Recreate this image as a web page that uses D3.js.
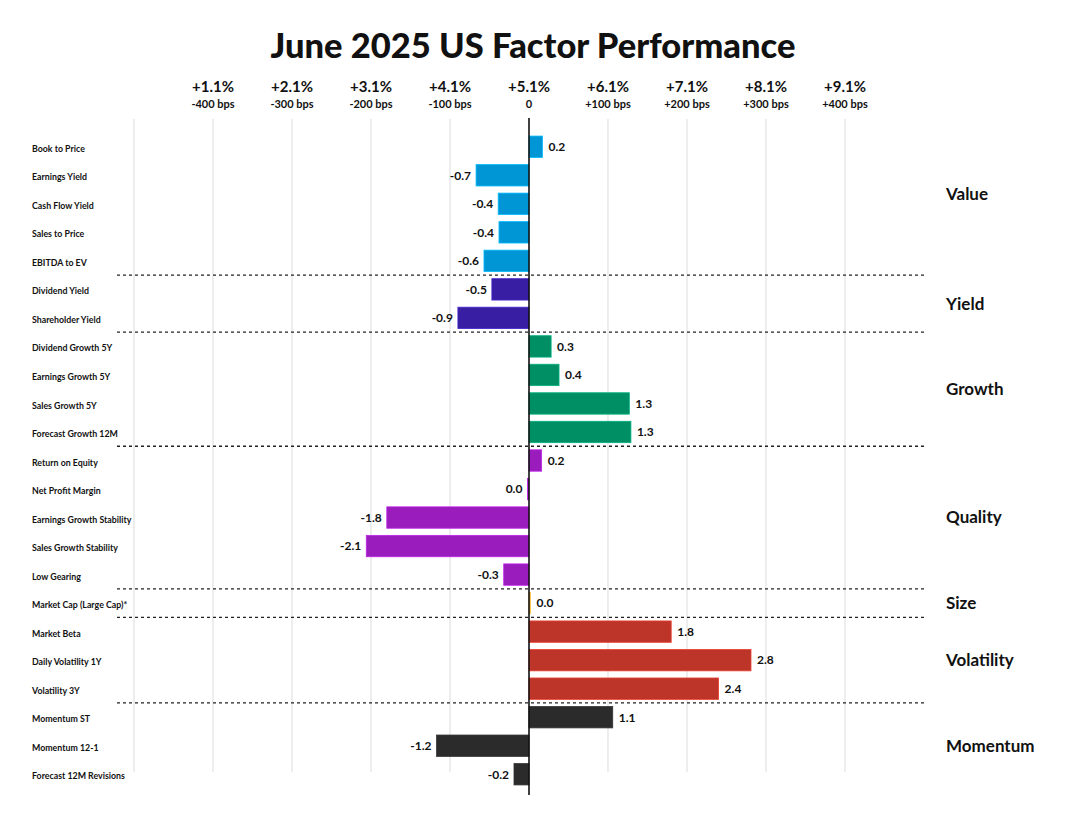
<!DOCTYPE html>
<html>
<head>
<meta charset="utf-8">
<script src="https://cdn.jsdelivr.net/npm/d3@7"></script>
<style>
  body { margin: 0; background: #fff; }
  text { font-family: "Lato", "Noto Sans", sans-serif; fill: #111; }
</style>
</head>
<body>
<div id="chart"></div>
<script>
// factor names, one row each
var factors = [
  "Book to Price", "Earnings Yield", "Cash Flow Yield", "Sales to Price", "EBITDA to EV",
  "Dividend Yield", "Shareholder Yield",
  "Dividend Growth 5Y", "Earnings Growth 5Y", "Sales Growth 5Y", "Forecast Growth 12M",
  "Return on Equity", "Net Profit Margin", "Earnings Growth Stability", "Sales Growth Stability", "Low Gearing",
  "Market Cap (Large Cap)*",
  "Market Beta", "Daily Volatility 1Y", "Volatility 3Y",
  "Momentum ST", "Momentum 12-1", "Forecast 12M Revisions"
];

// relative performance in % vs the market
var values = [
  0.17, -0.67, -0.39, -0.38, -0.57,
  -0.47, -0.90,
  0.28, 0.38, 1.27, 1.29,
  0.16, -0.02, -1.80, -2.06, -0.32,
  0.02,
  1.80, 2.81, 2.40,
  1.06, -1.17, -0.19
];

// which style group each factor belongs to
var groupOf = [
  "Value", "Value", "Value", "Value", "Value",
  "Yield", "Yield",
  "Growth", "Growth", "Growth", "Growth",
  "Quality", "Quality", "Quality", "Quality", "Quality",
  "Size",
  "Volatility", "Volatility", "Volatility",
  "Momentum", "Momentum", "Momentum"
];

var groups = ["Value", "Yield", "Growth", "Quality", "Size", "Volatility", "Momentum"];
var groupColors = ["#0096d6", "#381ea3", "#008f65", "#9a1cbc", "#e9a23b", "#bd3429", "#2b2b2b"];

// top axis
var tickValues = [-4, -3, -2, -1, 0, 1, 2, 3, 4];
var tickLabels = ["+1.1%", "+2.1%", "+3.1%", "+4.1%", "+5.1%", "+6.1%", "+7.1%", "+8.1%", "+9.1%"];
var bpsLabels = ["-400 bps", "-300 bps", "-200 bps", "-100 bps", "0", "+100 bps", "+200 bps", "+300 bps", "+400 bps"];
var gridValues = [-5, -4, -3, -2, -1, 0, 1, 2, 3, 4];

var svgWidth = 1069;
var svgHeight = 830;

var svg = d3.select("#chart")
  .append("svg")
  .attr("width", svgWidth)
  .attr("height", svgHeight);

var x = d3.scaleLinear()
  .domain([-5, 5])
  .range([134, 924]);

var y = d3.scaleBand()
  .domain(factors)
  .range([132.5, 788.5])
  .paddingInner(0.25)
  .paddingOuter(0.125);

var step = y.step();
var color = d3.scaleOrdinal().domain(groups).range(groupColors);

// title
svg.append("text")
  .attr("x", 533)
  .attr("y", 58)
  .attr("text-anchor", "middle")
  .style("font-size", "34.5px")
  .style("font-weight", 900)
  .text("June 2025 US Factor Performance");

// vertical gridlines
svg.append("g")
  .selectAll("line")
  .data(gridValues.filter(d => d !== 0))
  .enter()
  .append("line")
  .attr("x1", d => x(d))
  .attr("x2", d => x(d))
  .attr("y1", 119)
  .attr("y2", 772)
  .attr("stroke", "#e2e2e2")
  .attr("stroke-width", 1.2);

// top tick labels
var topAxis = svg.append("g");
topAxis.selectAll(".pct")
  .data(tickValues)
  .enter()
  .append("text")
  .attr("class", "pct")
  .attr("x", d => x(d))
  .attr("y", 92)
  .attr("text-anchor", "middle")
  .style("font-size", "15px")
  .style("font-weight", 700)
  .text((d, i) => tickLabels[i]);

topAxis.selectAll(".bps")
  .data(tickValues)
  .enter()
  .append("text")
  .attr("class", "bps")
  .attr("x", d => x(d))
  .attr("y", 108)
  .attr("text-anchor", "middle")
  .style("font-size", "11px")
  .style("font-weight", 700)
  .text((d, i) => bpsLabels[i]);

// dashed separators between groups
var breaks = [];
for (var i = 1; i < factors.length; i++) {
  if (groupOf[i] !== groupOf[i - 1]) breaks.push(factors[i]);
}
svg.append("g")
  .selectAll("line")
  .data(breaks)
  .enter()
  .append("line")
  .attr("x1", 117)
  .attr("x2", 924)
  .attr("y1", d => y(d) - (step - y.bandwidth()) / 2)
  .attr("y2", d => y(d) - (step - y.bandwidth()) / 2)
  .attr("stroke", "#222")
  .attr("stroke-width", 1.3)
  .attr("stroke-dasharray", "3,3");

// bars
var rows = factors.map((f, i) => ({ name: f, value: values[i], group: groupOf[i] }));

svg.append("g")
  .selectAll("rect")
  .data(rows)
  .enter()
  .append("rect")
  .attr("x", d => x(Math.min(0, d.value)))
  .attr("y", d => y(d.name))
  .attr("width", d => Math.abs(x(d.value) - x(0)))
  .attr("height", y.bandwidth())
  .attr("fill", d => color(d.group))
  .attr("stroke", d => d3.color(color(d.group)).brighter(0.6))
  .attr("stroke-width", 0.8);

// value labels
function fmt(v) {
  var r = Math.round(v * 10) / 10;
  if (r === 0) return "0.0";
  return (r < 0 ? "-" : "") + Math.abs(r).toFixed(1);
}

svg.append("g")
  .selectAll("text")
  .data(rows)
  .enter()
  .append("text")
  .attr("x", d => d.value < 0 ? x(d.value) - 5 : x(d.value) + 6)
  .attr("y", d => y(d.name) + y.bandwidth() / 2)
  .attr("dy", "0.36em")
  .attr("text-anchor", d => d.value < 0 ? "end" : "start")
  .style("font-size", "12px")
  .style("font-weight", 700)
  .text(d => fmt(d.value));

// factor names on the left
svg.append("g")
  .selectAll("text")
  .data(factors)
  .enter()
  .append("text")
  .attr("x", 32)
  .attr("y", d => y(d) + y.bandwidth() / 2 + 2)
  .attr("dy", "0.35em")
  .style("font-size", "8.8px")
  .style("font-weight", 700)
  .text(d => d);

// group names on the right (Value label sits a little high in the original)
svg.append("g")
  .selectAll("text")
  .data(groups)
  .enter()
  .append("text")
  .attr("x", 946)
  .attr("y", function(g) {
    var members = factors.filter((f, i) => groupOf[i] === g);
    var top = y(members[0]);
    var bottom = y(members[members.length - 1]) + y.bandwidth();
    return (top + bottom) / 2 + (g === "Value" ? -10 : 0);
  })
  .attr("dy", "0.35em")
  .style("font-size", "17px")
  .style("font-weight", 700)
  .text(d => d);

// zero line
svg.append("line")
  .attr("x1", x(0))
  .attr("x2", x(0))
  .attr("y1", 118)
  .attr("y2", 795)
  .attr("stroke", "#111")
  .attr("stroke-width", 1.6);
</script>
</body>
</html>
